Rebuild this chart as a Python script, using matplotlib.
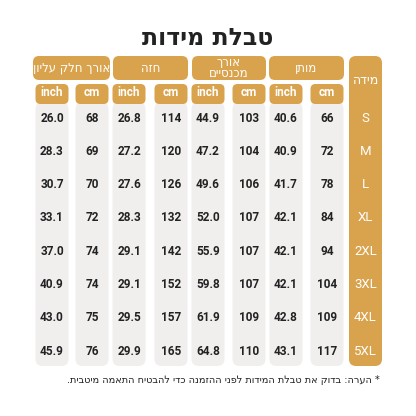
import matplotlib
matplotlib.use("Agg")
import matplotlib.pyplot as plt
from matplotlib.patches import FancyBboxPatch

# data
sizes = ["S", "M", "L", "XL", "2XL", "3XL", "4XL", "5XL"]
waist_cm = [66, 72, 78, 84, 94, 104, 109, 117]
waist_inch = [40.6, 40.9, 41.7, 42.1, 42.1, 42.1, 42.8, 43.1]
pants_cm = [103, 104, 106, 107, 107, 107, 109, 110]
pants_inch = [44.9, 47.2, 49.6, 52.0, 55.9, 59.8, 61.9, 64.8]
chest_cm = [114, 120, 126, 132, 142, 152, 157, 165]
chest_inch = [26.8, 27.2, 27.6, 28.3, 29.1, 29.1, 29.5, 29.9]
top_cm = [68, 69, 70, 72, 74, 74, 75, 76]
top_inch = [26.0, 28.3, 30.7, 33.1, 37.0, 40.9, 43.0, 45.9]
groups = ["מותן", "אורך\nמכנסיים", "חזה", "אורך חלק עליון"]
title = "טבלת מידות"
size_label = "מידה"
note = "* הערה: בדוק את טבלת המידות לפני ההזמנה כדי להבטיח התאמה מיטבית."


def heb(s):
    # matplotlib has no bidi: reverse each line for visual order
    return "\n".join(line[::-1] for line in s.split("\n"))


ORANGE = "#d9a24c"
CELL = "#f1eeee"
NUMF = ["Roboto", "DejaVu Sans"]

fig = plt.figure(figsize=(4.16, 4.16), dpi=100)
ax = fig.add_axes([0, 0, 1, 1])
ax.set_xlim(0, 416)
ax.set_ylim(416, 0)
ax.axis("off")


def box(x0, y0, w, h, color, r=5):
    ax.add_patch(FancyBboxPatch((x0 + r, y0 + r), w - 2 * r, h - 2 * r,
                                boxstyle=f"round,pad={r}", fc=color, ec="none"))


ax.text(208, 38, heb(title), ha="center", va="center", fontsize=17,
        fontweight="bold", color="#222222")

# columns right to left: (values, unit, center x)
cols = [(waist_cm, "cm", 327), (waist_inch, "inch", 286),
        (pants_cm, "cm", 249), (pants_inch, "inch", 208),
        (chest_cm, "cm", 171), (chest_inch, "inch", 129),
        (top_cm, "cm", 92), (top_inch, "inch", 52)]
group_x = [(269, 344), (192, 266), (113, 188), (33, 110)]

row_y0, row_dy = 118, 33.3

# size column
box(349, 56, 33, 310, ORANGE, r=7)
ax.text(365.5, 81, heb(size_label), ha="center", va="center", fontsize=9, color="white")
for i, s in enumerate(sizes):
    ax.text(365.5, row_y0 + i * row_dy, s, ha="center", va="center", fontsize=9.5,
            color="white", family=NUMF)

for (x0, x1), g in zip(group_x, groups):
    box(x0, 56, x1 - x0, 24, ORANGE, r=6)
    ax.text((x0 + x1) / 2, 68, heb(g), ha="center", va="center", fontsize=8.5,
            color="white", linespacing=0.85)

for vals, unit, cx in cols:
    w = 33
    box(cx - w / 2, 102, w, 264, CELL, r=7)
    box(cx - w / 2, 84, w, 20, ORANGE, r=5)
    ax.text(cx, 93, unit, ha="center", va="center", fontsize=8.5, fontweight="bold",
            color="white", family=NUMF)
    for i, v in enumerate(vals):
        txt = f"{v:.1f}" if isinstance(v, float) else str(v)
        ax.text(cx, row_y0 + i * row_dy, txt, ha="center", va="center",
                fontsize=8.5, fontweight="bold", color="#222222", family=NUMF)

ax.text(380, 380, heb(note), ha="right", va="center", fontsize=7, color="#222222")

fig.savefig("out.png", dpi=100, facecolor="white")
